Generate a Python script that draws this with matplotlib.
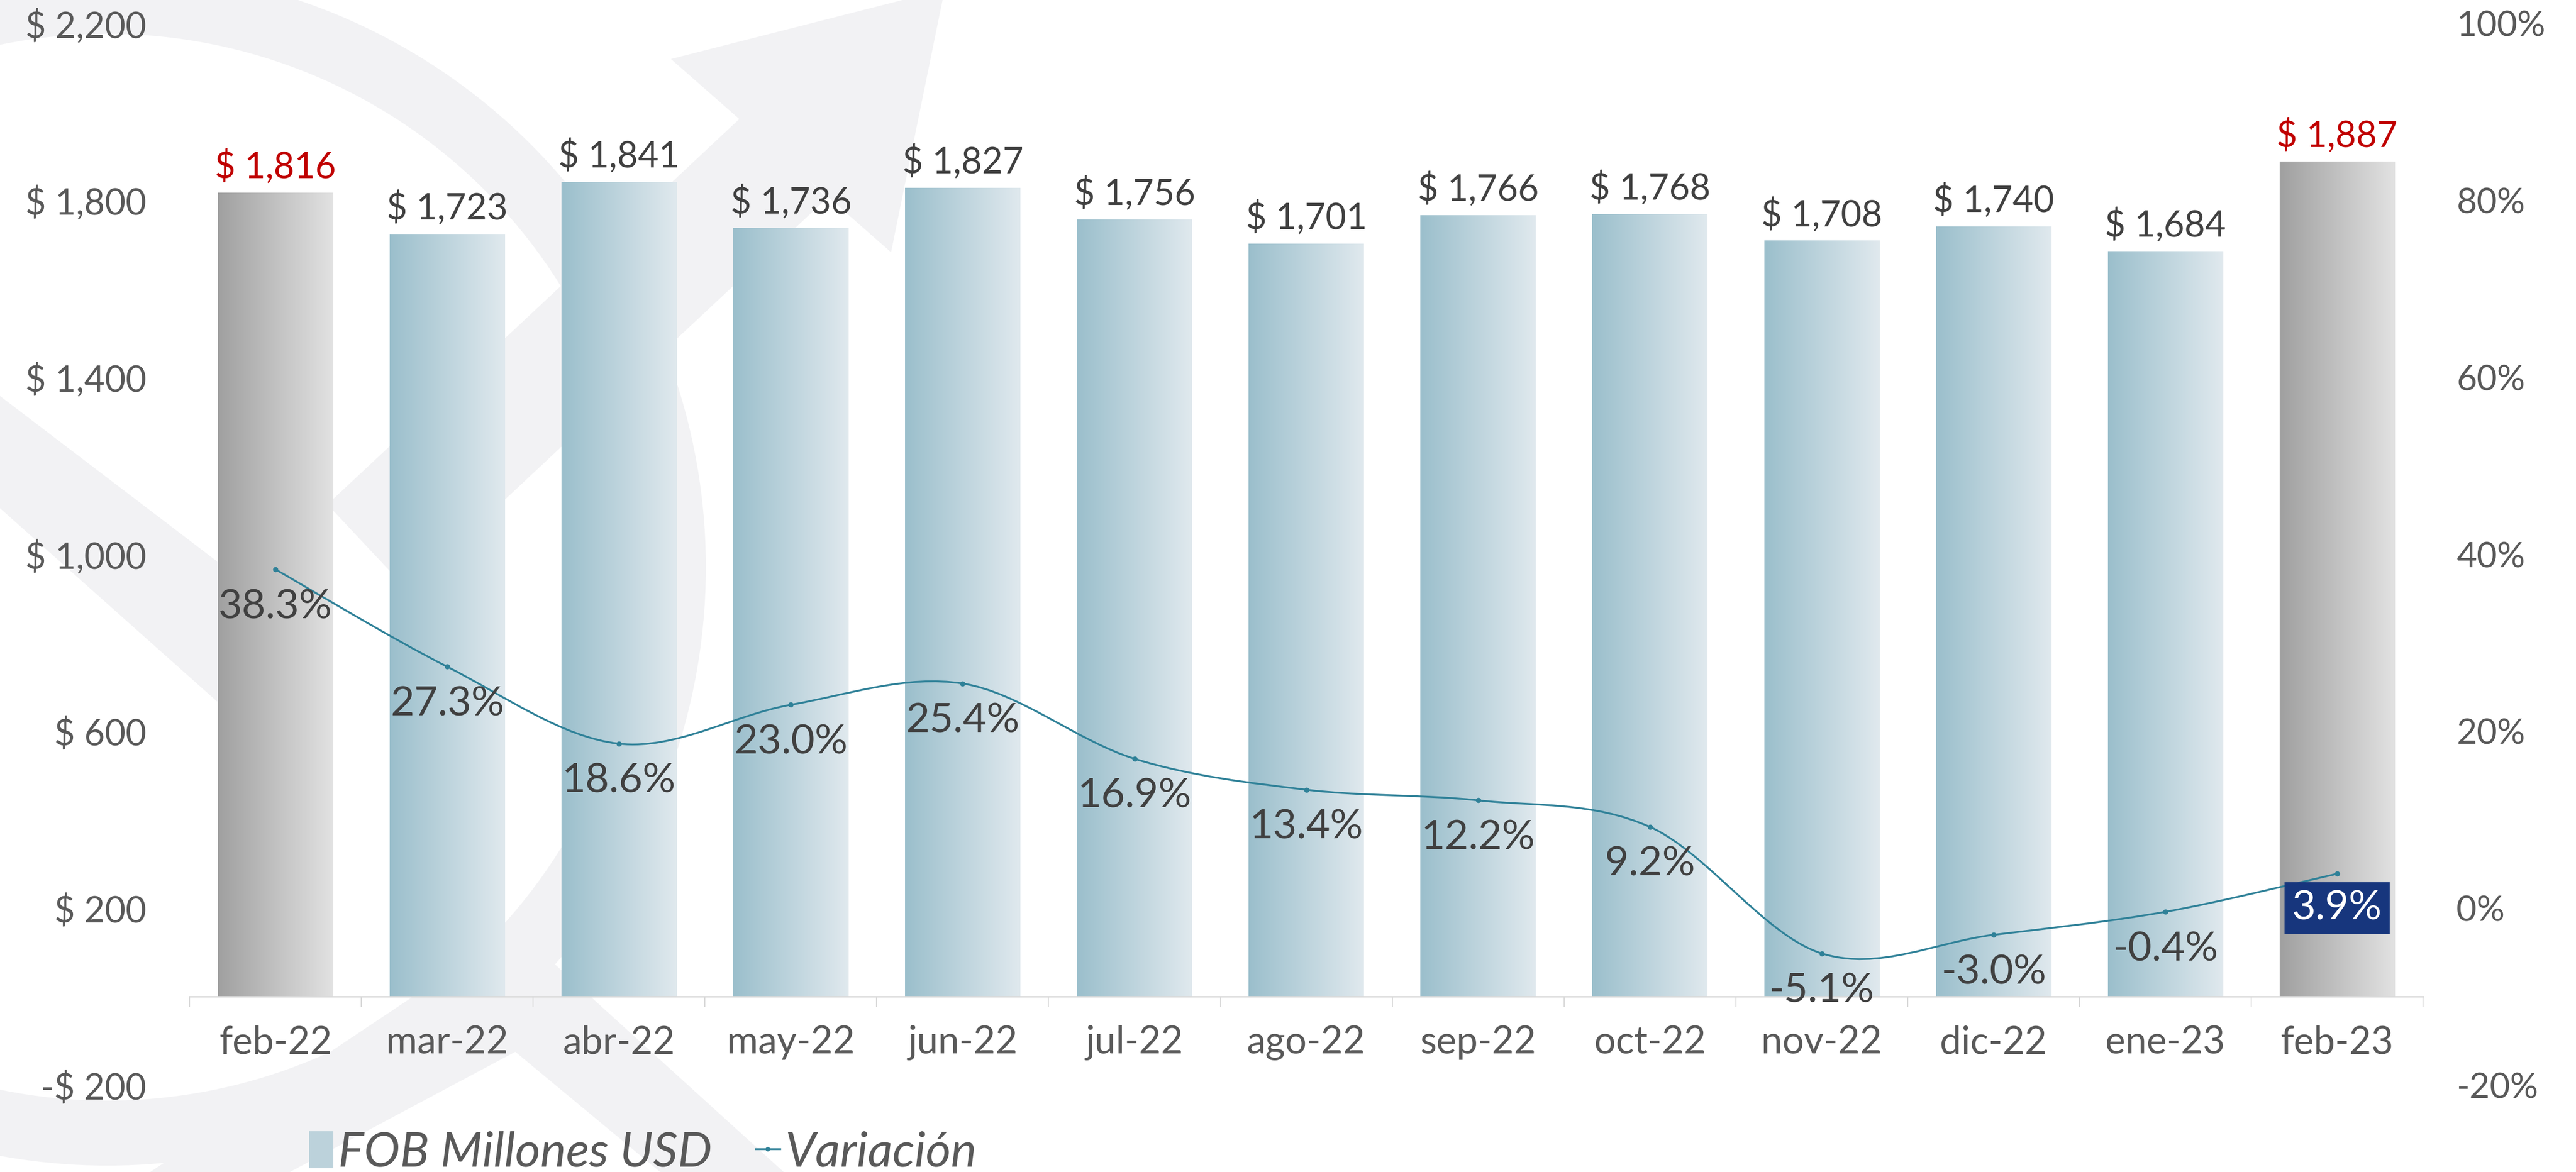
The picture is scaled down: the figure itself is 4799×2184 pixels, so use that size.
import matplotlib.pyplot as plt
import numpy as np
from matplotlib.colors import LinearSegmentedColormap
from matplotlib.path import Path
from matplotlib.patches import PathPatch, Wedge, Polygon, Patch
from matplotlib.lines import Line2D
from matplotlib.transforms import Affine2D

plt.rcParams['font.family'] = ['Lato', 'DejaVu Sans']

# ---------------- data ----------------
months = ['feb-22', 'mar-22', 'abr-22', 'may-22', 'jun-22', 'jul-22', 'ago-22',
          'sep-22', 'oct-22', 'nov-22', 'dic-22', 'ene-23', 'feb-23']
fob = [1816, 1723, 1841, 1736, 1827, 1756, 1701, 1766, 1768, 1708, 1740, 1684, 1887]
variacion = [38.3, 27.3, 18.6, 23.0, 25.4, 16.9, 13.4, 12.2, 9.2, -5.1, -3.0, -0.4, 3.9]
highlight = [0, 12]          # bars drawn grey with red labels
left_ticks = [-200, 200, 600, 1000, 1400, 1800, 2200]
right_ticks = [-20, 0, 20, 40, 60, 80, 100]

W, H = 4799, 2184
fig = plt.figure(figsize=(W / 100, H / 100), dpi=100)

# ---------------- background watermark (pixel coords, y from top) ----------------
px = Affine2D().scale(1, -1).translate(0, H)
wm = '#f2f2f4'
shapes = [
    Wedge((200, 1057), 1115, 0, 360, width=121),
    Polygon([(1250, 110), (1760, -20), (1660, 470)], closed=True),
    Polygon([(1390, 210), (1540, 370), (760, 1100), (610, 940)], closed=True),
    Polygon([(0, 738), (0, 947), (430, 1330), (580, 1180)], closed=True),
    Polygon([(280, 2184), (960, 1730), (1460, 2184), (1230, 2184),
             (960, 1960), (540, 2184)], closed=True),
]
for shp in shapes:
    shp.set_transform(px)
    shp.set_facecolor(wm)
    shp.set_edgecolor('none')
    shp.set_zorder(-5)
    fig.patches.append(shp)

# ---------------- axes ----------------
ax = fig.add_axes([0.0736, 0.074, 0.8670, 0.906])
ax.patch.set_alpha(0)
x = np.arange(len(months))

blue_cmap = LinearSegmentedColormap.from_list('b', ['#9bbfcc', '#e0e9ee'])
grey_cmap = LinearSegmentedColormap.from_list('g', ['#a0a0a0', '#e2e2e2'])
grad = np.linspace(0, 1, 256).reshape(1, -1)

bars = ax.bar(x, fob, width=0.67, color='none', zorder=2)
for i, b in enumerate(bars):
    cm = grey_cmap if i in highlight else blue_cmap
    ax.imshow(grad, cmap=cm, aspect='auto', zorder=2,
              extent=[b.get_x(), b.get_x() + b.get_width(), 0, b.get_height()])
    col = '#c00000' if i in highlight else '#404040'
    ax.annotate(f"$ {fob[i]:,}", (x[i], fob[i]), xytext=(0, 35), textcoords='offset points',
                ha='center', va='center', fontsize=48, color=col, zorder=5)

ax.set_xlim(-0.5, len(months) - 0.5)
ax.set_ylim(-200, 2200)
ax.set_yticks(left_ticks)
ax.set_yticklabels([f"$ {v:,}" if v >= 0 else f"-$ {-v:,}" for v in left_ticks])
ax.set_xticks(x)
ax.set_xticklabels(months)
ax.set_xticks(np.arange(-0.5, len(months)), minor=True)
ax.tick_params(axis='x', which='major', length=0, pad=38, labelsize=51, labelcolor='#595959')
ax.tick_params(axis='x', which='minor', length=14, width=1.5, color='#d9d9d9')
ax.tick_params(axis='y', length=0, pad=58, labelsize=48, labelcolor='#595959')
for s in ['top', 'right', 'left']:
    ax.spines[s].set_visible(False)
ax.spines['bottom'].set_position(('data', 0))
ax.spines['bottom'].set_color('#d9d9d9')
ax.spines['bottom'].set_linewidth(2)

# ---------------- variation line (smoothed) ----------------
ax2 = ax.twinx()
ax2.set_ylim(-20, 100)
ax2.set_yticks(right_ticks)
ax2.set_yticklabels([f"{v}%" for v in right_ticks])
ax2.tick_params(axis='y', length=0, pad=45, labelsize=47, labelcolor='#595959')
for s in ax2.spines.values():
    s.set_visible(False)

pts = np.column_stack([x, variacion])
verts = [tuple(pts[0])]
codes = [Path.MOVETO]
n = len(pts)
for i in range(n - 1):
    p0 = pts[max(i - 1, 0)]
    p1 = pts[i]
    p2 = pts[i + 1]
    p3 = pts[min(i + 2, n - 1)]
    c1 = p1 + (p2 - p0) / 6
    c2 = p2 - (p3 - p1) / 6
    verts += [tuple(c1), tuple(c2), tuple(p2)]
    codes += [Path.CURVE4] * 3
ax2.add_patch(PathPatch(Path(verts, codes), facecolor='none', edgecolor='#2f8198',
                        linewidth=2.5, zorder=3))
ax2.plot(x, variacion, linestyle='none', marker='o', markersize=6, color='#2f8198', zorder=4)

for i, v in enumerate(variacion):
    if i == len(variacion) - 1:
        ax2.annotate(f"{v:.1f}%", (x[i], v), xytext=(0, -46), textcoords='offset points',
                     ha='center', va='center', fontsize=55, color='white', zorder=6,
                     bbox=dict(boxstyle='square,pad=0.18', facecolor='#17367d', edgecolor='none'))
    else:
        ax2.annotate(f"{v:.1f}%", (x[i], v), xytext=(0, -50), textcoords='offset points',
                     ha='center', va='center', fontsize=55, color='#404040', zorder=6)

# ---------------- legend ----------------
handles = [Patch(facecolor='#bcd2db', edgecolor='none'),
           Line2D([0], [0], color='#2f8198', linewidth=2.5, marker='o', markersize=5)]
fig.legend(handles, ['FOB Millones USD', 'Variación'], loc='center',
           bbox_to_anchor=(0.2495, 0.0165), ncol=2, frameon=False,
           prop={'size': 65, 'style': 'italic'}, labelcolor='#595959',
           handlelength=0.5, handleheight=0.8, handletextpad=0.1, columnspacing=0.9)

fig.savefig('out.png', dpi=100)
